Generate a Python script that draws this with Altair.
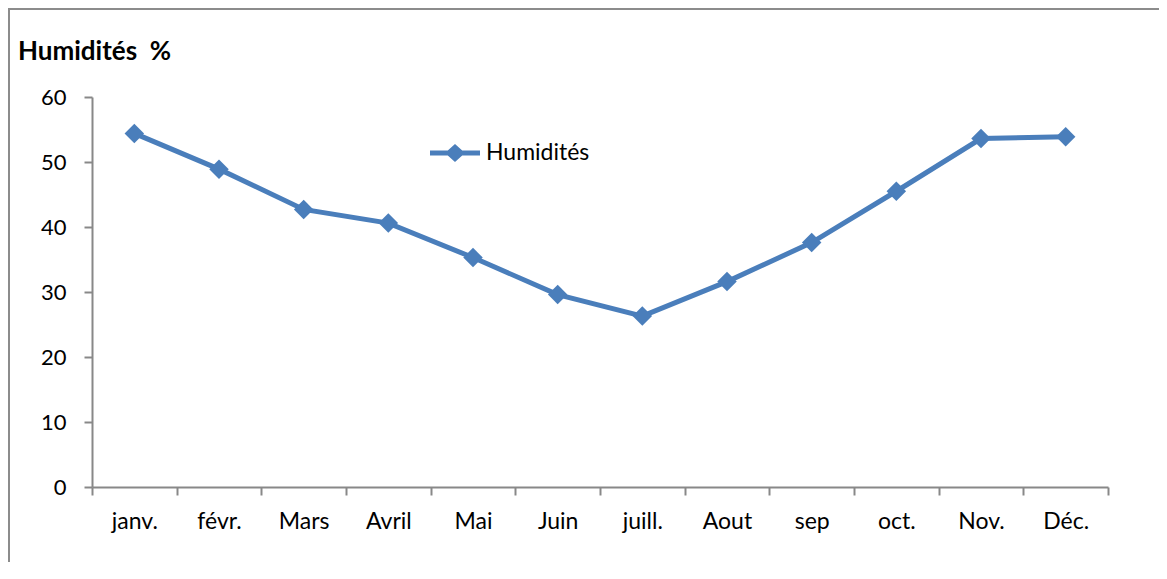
import altair as alt
import pandas as pd

months = ["janv.", "févr.", "Mars", "Avril", "Mai", "Juin", "juill.", "Aout", "sep", "oct.", "Nov.", "Déc."]
humidity = [54.4, 48.9, 42.7, 40.6, 35.3, 29.6, 26.3, 31.6, 37.6, 45.5, 53.6, 53.9]
series_name = "Humidités"
y_ticks = [0, 10, 20, 30, 40, 50, 60]
title_text = "Humidités\u00a0\u00a0%"

BLUE = "#4A7EBB"
GRAY = "#888888"
FONT = "Lato"

df = pd.DataFrame({"mois": months, "val": humidity, "serie": [series_name] * len(months)})

legend_path = ("M-1,-0.1L-0.289,-0.1L0,-0.36L0.289,-0.1L1,-0.1L1,0.1"
               "L0.289,0.1L0,0.36L-0.289,0.1L-1,0.1Z")

x_enc = alt.X("mois:N", sort=months, title=None,
              scale=alt.Scale(paddingInner=0, paddingOuter=0),
              axis=alt.Axis(labelAngle=0, tickBand="extent", tickSize=8, tickColor=GRAY,
                            domainColor=GRAY, domainWidth=2, tickWidth=2,
                            labelFontSize=23, labelFont=FONT, labelColor="black",
                            labelPadding=15, grid=False))
y_enc = alt.Y("val:Q", title=None,
              scale=alt.Scale(domain=[0, 60], nice=False),
              axis=alt.Axis(values=y_ticks, tickSize=8, tickColor=GRAY, domainColor=GRAY,
                            domainWidth=2, tickWidth=2,
                            labelFontSize=22, labelFont=FONT, labelColor="black",
                            labelPadding=18, grid=False))

base = alt.Chart(df)

line = base.mark_line(color=BLUE, strokeWidth=5).encode(x=x_enc, y=y_enc)

points = base.mark_point(shape="diamond", filled=True, size=380, opacity=1).encode(
    x=x_enc, y=y_enc,
    color=alt.Color("serie:N", scale=alt.Scale(range=[BLUE]),
                    legend=alt.Legend(title=None, orient="none", legendX=338, legendY=31,
                                      symbolType=legend_path, symbolSize=2500,
                                      symbolStrokeWidth=0,
                                      labelFont=FONT, labelFontSize=23, labelColor="black",
                                      labelOffset=6)),
)

one = pd.DataFrame({"k": [0]})
border = alt.Chart(one).mark_rect(fill=None, stroke="#8c8c8c", strokeWidth=2, clip=False).encode(
    x=alt.value(-83), x2=alt.value(1300), y=alt.value(-88), y2=alt.value(900)
)

title = alt.Chart(pd.DataFrame({"t": [title_text]})).mark_text(
    align="left", baseline="alphabetic", font=FONT, fontSize=26, fontWeight="bold", color="black",
    clip=False
).encode(x=alt.value(-74), y=alt.value(-37), text="t:N")

chart = alt.layer(border, line, points, title).properties(
    width=1016, height=390,
    autosize=alt.AutoSizeParams(type="none"),
    padding={"left": 84, "top": 89, "right": 51, "bottom": 75},
).configure_view(stroke=None)

chart.save("out.html", embed_options={"renderer": "svg", "actions": False})
